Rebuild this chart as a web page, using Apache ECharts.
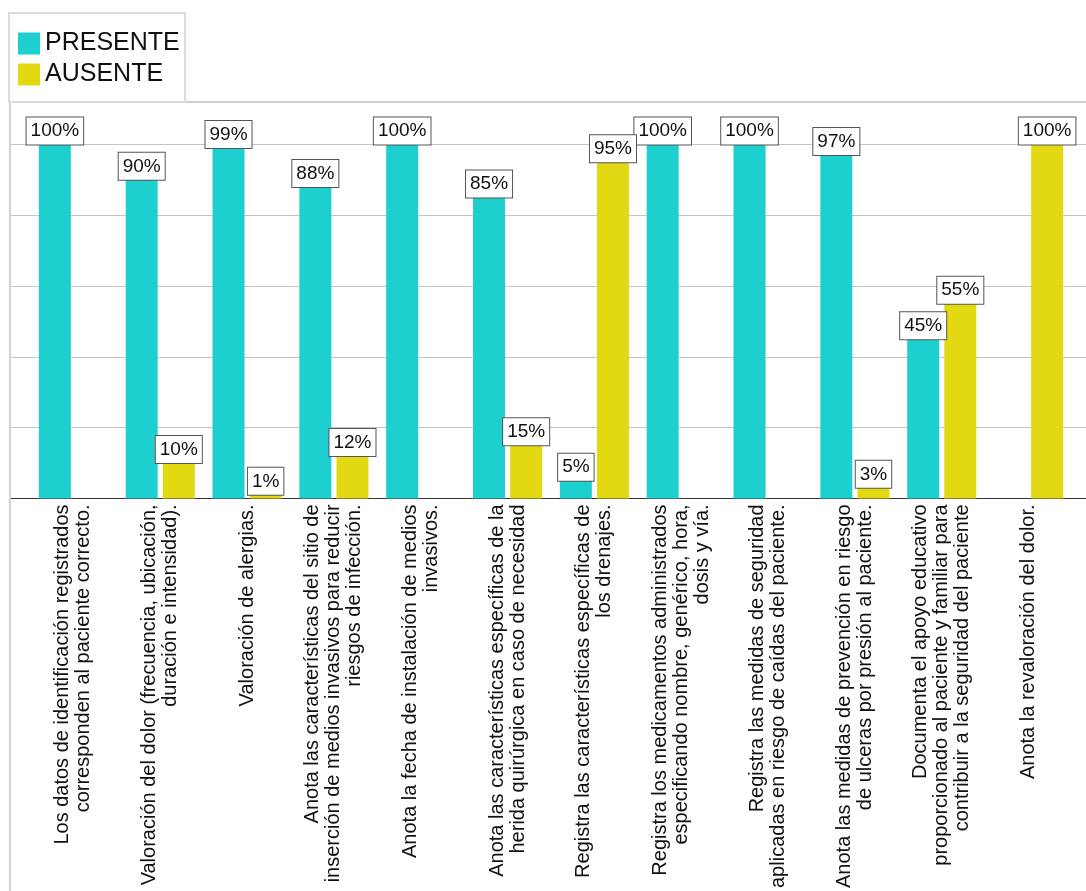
<!DOCTYPE html>
<html>
<head>
<meta charset="utf-8">
<script src="https://cdn.jsdelivr.net/npm/echarts@6/dist/echarts.min.js"></script>
<style>
  html, body { margin: 0; padding: 0; background: #fff; }
  #chart { width: 1086px; height: 891px; }
</style>
</head>
<body>
<div id="chart"></div>
<script>
// Registro de indicadores de enfermería: porcentaje PRESENTE / AUSENTE por ítem
const categories = [
  'Los datos de identificación registrados\ncorresponden al paciente correcto.',
  'Valoración del dolor (frecuencia, ubicación,\nduración e intensidad).',
  'Valoración de alergias.',
  'Anota las características del sitio de\ninserción de medios invasivos para reducir\nriesgos de infección.',
  'Anota la fecha de instalación de medios\ninvasivos.',
  'Anota las características específicas de la\nherida quirúrgica en caso de necesidad',
  'Registra las características específicas de\nlos drenajes.',
  'Registra los medicamentos administrados\nespecificando nombre, genérico, hora,\ndosis y vía.',
  'Registra las medidas de seguridad\naplicadas en riesgo de caídas del paciente.',
  'Anota las medidas de prevención en riesgo\nde ulceras por presión al paciente.',
  'Documenta el apoyo educativo\nproporcionado al paciente y familiar para\ncontribuir a la seguridad del paciente',
  'Anota la revaloración del dolor.'
];
const presente = [100, 90, 99, 88, 100, 85, 5, 100, 100, 97, 45, null];
const ausente  = [null, 10, 1, 12, null, 15, 95, null, null, 3, 55, 100];
const seriesNames = ['PRESENTE', 'AUSENTE'];
const colors = ['#1DCFCF', '#E3D912'];

const FONT = '"Liberation Sans", Arial, sans-serif';
const Y_MAX = 112;
const Y_STEP = 20;

const chart = echarts.init(document.getElementById('chart'), null, { renderer: 'canvas' });

const valueLabel = {
  show: true,
  position: 'top',
  distance: 0,
  formatter: p => p.value + '%',
  fontFamily: FONT,
  fontSize: 19,
  lineHeight: 21,
  color: '#111',
  backgroundColor: '#fff',
  borderColor: '#555',
  borderWidth: 1,
  padding: [3, 4]
};

chart.setOption({
  animation: false,
  backgroundColor: '#fff',
  textStyle: { fontFamily: FONT },
  legend: {
    data: seriesNames,
    orient: 'vertical',
    left: 18,
    top: 31,
    padding: 0,
    itemWidth: 22,
    itemHeight: 22,
    itemGap: 6,
    icon: 'rect',
    textStyle: { fontSize: 25, color: '#111', fontFamily: FONT }
  },
  grid: [
    // frame: gridlines, baseline and outline
    { left: 10, right: 0, top: 102, bottom: 392.5, containLabel: false },
    // bars
    { left: 30, right: 14, top: 102, bottom: 392.5, containLabel: false }
  ],
  xAxis: [
    {
      gridIndex: 0, type: 'value', min: 0, max: 1,
      axisLine: { show: true, lineStyle: { color: '#333', width: 1 } },
      axisTick: { show: false }, axisLabel: { show: false }, splitLine: { show: false }
    },
    {
      gridIndex: 1, type: 'category', data: categories,
      axisLine: { show: false }, axisTick: { show: false }, splitLine: { show: false },
      axisLabel: {
        interval: 0, rotate: 90, margin: 6,
        fontFamily: FONT, fontSize: 20, lineHeight: 21, color: '#111'
      }
    }
  ],
  yAxis: [
    {
      gridIndex: 0, type: 'value', min: 0, max: Y_MAX, interval: Y_STEP,
      axisLine: { show: false }, axisTick: { show: false }, axisLabel: { show: false },
      splitLine: { show: true, lineStyle: { color: '#c4c4c4', width: 1 } }
    },
    {
      gridIndex: 1, type: 'value', min: 0, max: Y_MAX, interval: Y_STEP,
      show: false, splitLine: { show: false }
    }
  ],
  graphic: [
    {
      type: 'line', z: 1,
      shape: { x1: 10, y1: 102, x2: 10, y2: 891 },
      style: { stroke: '#d2d2d2', lineWidth: 2 }
    },
    {
      type: 'line', z: 1,
      shape: { x1: 10, y1: 102, x2: 1086, y2: 102 },
      style: { stroke: '#cfcfcf', lineWidth: 2 }
    },
    {
      type: 'rect', z: 2,
      shape: { x: 9, y: 13, width: 176, height: 89 },
      style: { fill: '#fff', stroke: '#dcdcdc', lineWidth: 2 }
    }
  ],
  series: [
    {
      name: seriesNames[0], type: 'bar', xAxisIndex: 1, yAxisIndex: 1,
      data: presente, barWidth: 32, barGap: '16%',
      itemStyle: { color: colors[0] },
      label: valueLabel, z: 3
    },
    {
      name: seriesNames[1], type: 'bar', xAxisIndex: 1, yAxisIndex: 1,
      data: ausente, barWidth: 32, barGap: '16%',
      itemStyle: { color: colors[1] },
      label: valueLabel, z: 3
    }
  ]
});
</script>
</body>
</html>
